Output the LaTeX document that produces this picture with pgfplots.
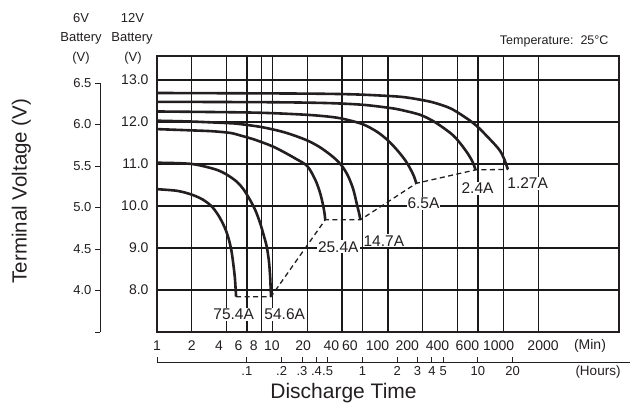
\documentclass[border=0pt]{standalone}
\usepackage{pgfplots}
\pgfplotsset{compat=1.18}
\usepackage{fontspec}
\setmainfont{Liberation Sans}
\definecolor{ink}{HTML}{231F20}
\newcommand{\fs}[1]{\fontsize{#1}{#1}\selectfont}

\begin{document}
\begin{tikzpicture}[x=1pt,y=1pt]
\useasboundingbox (0,0) rectangle (630,403);

% main chart: minutes (log) vs 12V battery voltage
\begin{axis}[
  at={(157pt,71pt)}, anchor=south west,
  scale only axis, width=462pt, height=276pt,
  xmode=log, xmin=1, xmax=10000,
  ymin=7, ymax=13.571,
  axis line style={ink, line width=2.2pt},
  xtick={1,2,3.45,5.07,6.87,9.9,18.4,32.3,46.7,81,147,268,487,907,2200},
  xticklabels={1,2,4,6,8,10,20,40,60,100,200,400,600,1000,2000},
  extra x ticks={2,4,6,8,10,20,40,60,100,200,400,600,1000,2000},
  extra x tick labels={},
  extra x tick style={grid=major},
  xminorticks=false,
  ytick={8,9,10,11,12,13},
  yticklabels={8.0,9.0,10.0,11.0,12.0,13.0},
  ymajorgrids,
  major grid style={black!90, line width=1.25pt},
  major tick length=0pt,
  tick label style={font=\fs{14}, text=ink},
  xticklabel style={yshift=-5pt},
  yticklabel style={xshift=-5pt},
  clip=false,
]
% 75.4A
\addplot[ink, line width=2.6pt, smooth] coordinates {
  (1,10.40) (1.5,10.36) (2,10.27) (2.5,10.15) (3,9.98) (3.5,9.72)
  (4,9.38) (4.4,8.95) (4.7,8.35) (4.8,8.0) (4.84,7.84)
};
% 54.6A
\addplot[ink, line width=2.6pt, smooth] coordinates {
  (1,11.03) (1.5,11.02) (2,11.0) (2.5,10.95) (3.3,10.86) (4,10.75)
  (4.9,10.58) (5.6,10.4) (6.4,10.14) (7.1,9.9) (7.8,9.6) (8.4,9.3)
  (8.9,9.04) (9.3,8.7) (9.55,8.3) (9.7,7.84)
};
% 25.4A
\addplot[ink, line width=2.6pt, smooth] coordinates {
  (1,11.83) (2,11.80) (3,11.78) (4.3,11.74) (5.25,11.68) (7,11.58)
  (10,11.42) (13,11.26) (16,11.12) (20,10.95) (23.5,10.62) (25.9,10.3)
  (27.5,10.0) (28.3,9.8) (28.6,9.67)
};
% 14.7A
\addplot[ink, line width=2.6pt, smooth] coordinates {
  (1,12.03) (2,12.01) (4.3,11.97) (5.25,11.95) (8,11.88) (11.7,11.78)
  (15,11.69) (20,11.56) (25,11.42) (30,11.27) (35,11.12) (40,10.95)
  (45,10.72) (50,10.4) (54,10.02) (56.5,9.8) (57.6,9.67)
};
% 6.5A
\addplot[ink, line width=2.6pt, smooth] coordinates {
  (1,12.25) (5,12.23) (10,12.21) (20,12.17) (30,12.13) (40,12.08)
  (60,11.95) (80,11.77) (100,11.56) (120,11.33) (140,11.1) (155,10.9)
  (167,10.72) (176,10.54)
};
% 2.4A
\addplot[ink, line width=2.6pt, smooth] coordinates {
  (1,12.48) (10,12.47) (30,12.45) (60,12.41) (100,12.34) (128,12.29)
  (190,12.17) (250,12.01) (320,11.81) (370,11.67) (420,11.5) (490,11.25)
  (540,11.05) (573,10.86)
};
% 1.27A
\addplot[ink, line width=2.6pt, smooth] coordinates {
  (1,12.69) (10,12.68) (30,12.67) (60,12.65) (128,12.6) (190,12.53)
  (250,12.46) (350,12.32) (490,12.07) (600,11.88) (720,11.66)
  (850,11.45) (940,11.3) (1020,11.1) (1092,10.87)
};
% end-point voltage
\addplot[ink, line width=1.3pt, dash pattern=on 5pt off 3.5pt] coordinates {
  (4.84,7.84) (9.7,7.84) (28.6,9.67) (57.6,9.67) (176,10.54) (573,10.86) (1092,10.87)
};
\begin{scope}[every node/.style={fill=white, inner sep=1pt, font=\fs{15.5}, text=ink}]
\node at (axis cs:4.61,7.424) {75.4A};
\node at (axis cs:12.76,7.424) {54.6A};
\node at (axis cs:37.1,9.03) {25.4A};
\node at (axis cs:92.1,9.174) {14.7A};
\node at (axis cs:202.8,10.07) {6.5A};
\node at (axis cs:596,10.42) {2.4A};
\node at (axis cs:1618,10.54) {1.27A};
\end{scope}
\end{axis}

% 6V battery scale
\begin{axis}[
  at={(100pt,71pt)}, anchor=south west,
  scale only axis, width=20pt, height=249pt,
  xmin=0, xmax=1, ymin=3.5, ymax=6.5,
  axis y line=left, axis x line=none,
  axis line style={-, ink, line width=0.9pt},
  ytick={3.5,4,4.5,5,5.5,6,6.5},
  yticklabels={,4.0,4.5,5.0,5.5,6.0,6.5},
  tick align=outside, major tick length=5pt,
  tick style={ink, line width=0.9pt},
  tick label style={font=\fs{13}, text=ink},
]
\end{axis}

% hours scale
\begin{axis}[
  at={(157pt,40.3pt)}, anchor=south west,
  scale only axis, width=462pt, height=10pt,
  xmode=log, xmin=0.0166667, xmax=166.667,
  ymin=0, ymax=1,
  axis x line=bottom, axis y line=none,
  axis line style={-, ink, line width=0.9pt, shorten >=-11pt},
  xtick={0.0166667,0.1,0.2,0.3,0.4,0.5,1,2,3,4,5,10,20},
  xticklabels={,.1,.2,.3,.4,.5,1,2,3,4,5,10,20},
  xminorticks=false,
  tick align=inside, major tick length=6pt,
  tick style={ink, line width=0.9pt},
  tick label style={font=\fs{13}, text=ink},
]
\end{axis}

\begin{scope}[every node/.style={text=ink}]
\node[anchor=base, font=\fs{13}] at (81,380.3) {6V};
\node[anchor=base, font=\fs{13}] at (81,361.3) {Battery};
\node[anchor=base, font=\fs{13}] at (81,341.5) {(V)};
\node[anchor=base, font=\fs{13}] at (132.5,380.3) {12V};
\node[anchor=base, font=\fs{13}] at (132,361.3) {Battery};
\node[anchor=base, font=\fs{13}] at (133,341.5) {(V)};
\node[anchor=base east, font=\fs{12.5}] at (612,358.7) {Temperature:\ \ 25°C};
\node[font=\fs{14}] at (590,57) {(Min)};
\node[font=\fs{13.5}] at (598,31) {(Hours)};
\node[anchor=base, font=\fs{21}] at (343.5,4) {Discharge Time};
\node[anchor=base, rotate=90, font=\fs{20.5}] at (26.7,212) {Terminal Voltage (V)};
\end{scope}
\end{tikzpicture}
\end{document}
